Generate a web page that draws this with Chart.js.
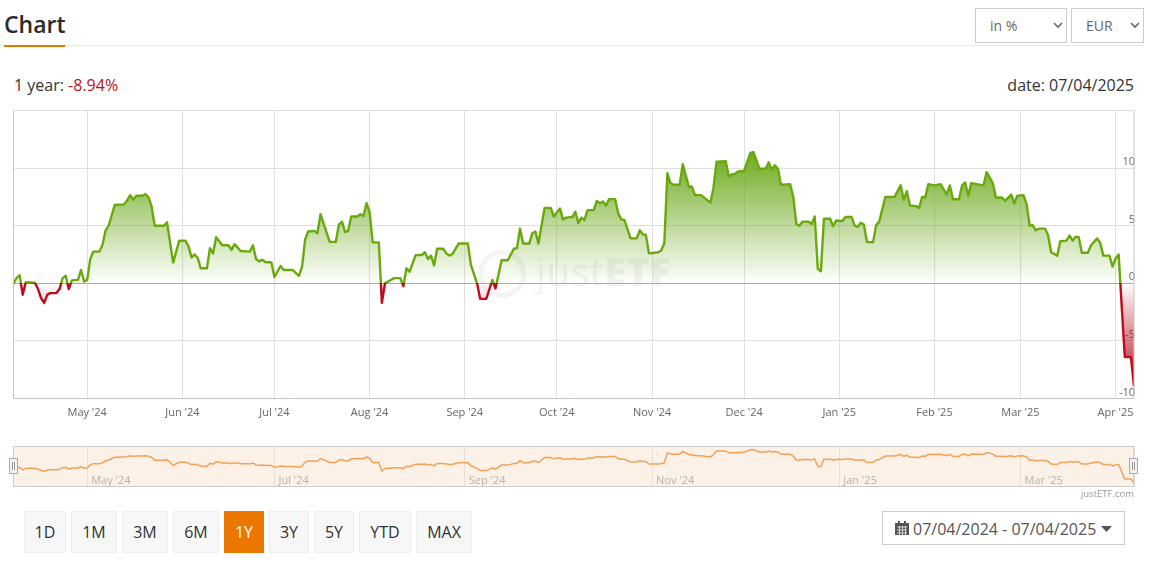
<!DOCTYPE html>
<html>
<head>
<meta charset="utf-8">
<title>Chart</title>
<script src="https://cdn.jsdelivr.net/npm/chart.js@4/dist/chart.umd.min.js"></script>
<style>
  html, body { margin: 0; padding: 0; background: #fff; }
  body { position: relative; width: 1154px; height: 567px; overflow: hidden; font-family: "Open Sans", sans-serif; color: #333; }
  .abs { position: absolute; white-space: nowrap; }
  canvas { position: absolute; }
  #title { left: 4px; top: 7px; font-size: 23px; font-weight: 600; line-height: 34px; color: #2b2b2b; }
  #rule { left: 4px; top: 45px; width: 1140px; height: 1px; background: #e6e6e6; }
  #ruleAccent { left: 4px; top: 45px; width: 61px; height: 2px; background: #ec7700; }
  .select { top: 8px; height: 33px; border: 1px solid #ccc; box-sizing: content-box; font-size: 14px; line-height: 33px; color: #666; }
  .select span { position: absolute; left: 14px; }
  .select svg { position: absolute; top: 13px; }
  #selUnit { left: 975px; width: 90px; }
  #selCur { left: 1071px; width: 71px; }
  #perf { left: 14px; top: 75px; font-size: 16px; line-height: 20px; }
  #perf b { font-weight: 400; color: #b5121b; }
  #date { right: 20px; top: 75px; font-size: 16px; line-height: 20px; }
  #ring { left: 478px; top: 250px; width: 38px; height: 38px; border: 5px solid #f4f4f4; border-radius: 50%; }
  #mark { left: 536px; top: 246px; font-size: 39px; line-height: 50px; color: #f3f3f3; letter-spacing: 0.5px; }
  #mark b { font-weight: 800; }
  #main { left: 0; top: 100px; }
  #nav { left: 0; top: 440px; }
  .handle { top: 458px; width: 7px; height: 14px; background: #f2f2f2; border: 1px solid #aaa; }
  .handle i { position: absolute; top: 3px; width: 1px; height: 8px; background: #999; }
  #credit { right: 20px; top: 487px; font-size: 9.5px; line-height: 13px; color: #999; }
  .btn { top: 511px; height: 40px; line-height: 40px; text-align: center; font-size: 16px; background: #f7f7f7; border: 1px solid #eee; color: #333; }
  .btn.on { background: #ec7700; border-color: #ec7700; color: #fff; }
  #range { left: 882px; top: 511px; width: 241px; height: 32px; border: 1px solid #ccc; line-height: 34px; font-size: 16px; color: #555; }
  #range span { position: absolute; left: 30px; }
  #range svg { position: absolute; }
</style>
</head>
<body>
<div class="abs" id="title">Chart</div>
<div class="abs" id="rule"></div>
<div class="abs" id="ruleAccent"></div>
<div class="abs select" id="selUnit"><span>in %</span><svg width="10" height="7" style="left:77px"><path d="M1 1l4 4 4-4" fill="none" stroke="#666" stroke-width="1.6"/></svg></div>
<div class="abs select" id="selCur"><span>EUR</span><svg width="10" height="7" style="left:58px"><path d="M1 1l4 4 4-4" fill="none" stroke="#666" stroke-width="1.6"/></svg></div>
<div class="abs" id="perf">1 year: <b>-8.94%</b></div>
<div class="abs" id="date">date: 07/04/2025</div>
<div class="abs" id="ring"></div>
<div class="abs" id="mark">just<b>ETF</b></div>
<canvas id="main" width="1154" height="330" style="width:1154px;height:330px"></canvas>
<canvas id="nav" width="1154" height="50" style="width:1154px;height:50px"></canvas>
<div class="abs handle" style="left:9px"><i style="left:2px"></i><i style="left:4px"></i></div>
<div class="abs handle" style="left:1129px"><i style="left:2px"></i><i style="left:4px"></i></div>
<div class="abs" id="credit">justETF.com</div>
<div class="abs btn" style="left:24px;width:40px">1D</div>
<div class="abs btn" style="left:71px;width:44px">1M</div>
<div class="abs btn" style="left:122px;width:44px">3M</div>
<div class="abs btn" style="left:173px;width:44px">6M</div>
<div class="abs btn on" style="left:224px;width:38px">1Y</div>
<div class="abs btn" style="left:269px;width:38px">3Y</div>
<div class="abs btn" style="left:314px;width:38px">5Y</div>
<div class="abs btn" style="left:359px;width:50px">YTD</div>
<div class="abs btn" style="left:416px;width:54px">MAX</div>
<div class="abs" id="range">
  <svg width="15" height="15" style="left:12px;top:9px"><path d="M0 4h14v10H0zM0 2h14v2H0zM3 0h2v3H3zM9 0h2v3H9z" fill="#555"/><path d="M2 6h10M2 9h10M2 12h10M4.5 5v9M7.5 5v9M10.5 5v9" stroke="#fff" stroke-width="0.7"/></svg>
  <span>07/04/2024 - 07/04/2025</span>
  <svg width="12" height="7" style="left:218px;top:14px"><path d="M0 0h11L5.5 6z" fill="#555"/></svg>
</div>

<script>
// days since 7 Apr 2024
const days = [
  0, 1, 2, 3, 4, 7, 8, 9, 10, 11, 12, 14, 15, 16, 17, 18, 19, 21, 22, 23, 24, 25, 26, 28, 29, 30, 31, 33, 36, 37, 38, 39, 40, 42, 43, 44, 45, 46, 49, 50, 52, 54, 56, 57, 58, 59, 60, 61, 63, 64, 65, 66, 68, 70, 71, 72, 74, 77, 78, 79, 80, 81, 82, 84, 85, 87, 88, 91, 93, 94, 95, 96, 98, 99, 100, 103, 105, 106, 107, 108, 109, 110, 112, 113, 114, 115, 116, 117, 119,
  120, 121, 124, 126, 127, 128, 129, 131, 133, 134, 135, 136, 137, 138, 140, 141, 142, 143, 145, 148, 149, 151, 152, 154, 156, 157, 159, 161, 163, 164, 165, 166, 168, 169, 170, 171, 173, 175, 176, 178, 179, 180, 182, 183, 184, 185, 186, 187, 189, 190, 191, 192, 193, 194, 196, 197, 198, 199, 201, 203, 204, 205, 206, 207, 210, 211, 212, 213, 214, 215, 217, 218, 220, 221, 222, 224, 227, 228, 229, 232, 233, 234, 235, 236, 238, 239, 240, 241, 243,
  245, 246, 247, 248, 249, 250, 253, 254, 255, 256, 257, 259, 260, 261, 262, 263, 264, 266, 267, 268, 270, 271, 273, 274, 275, 276, 277, 278, 280, 281, 282, 284, 287, 289, 290, 291, 292, 294, 295, 296, 297, 298, 300, 302, 304, 305, 306, 308, 309, 310, 311, 312, 316, 317, 319, 320, 322, 323, 325, 326, 327, 329, 330, 331, 332, 333, 334, 336, 337, 338, 340, 341, 343, 344, 345, 346, 347, 348, 350, 351, 353, 354, 355, 357, 358, 359, 360, 361, 362, 364, 365
];
const returns = [
  0, 0.45, 0.7, -1.0, 0.1, 0.05, -0.5, -1.3, -1.7, -1.0, -0.85, -0.85, -0.5, 0.45, 0.65, -0.5, 0.25, 0.3, 1.15, 0.15, 0.3, 2.1, 2.75, 2.75, 3.35, 4.6, 5.0, 6.8, 6.85, 7.2, 7.65, 7.25, 7.6, 7.6, 7.75, 7.45, 6.65, 5.0, 5.0, 5.3, 1.8, 3.7, 3.7, 3.2, 2.25, 2.5, 2.2, 1.3, 1.3, 3.05, 2.6, 4.0, 3.3, 3.3, 2.9, 3.4, 2.8, 2.75, 3.3, 2.1, 1.9, 2.05, 1.85, 1.8, 0.55, 1.5, 1.15, 1.15, 0.65, 1.45, 3.8, 4.5, 4.55, 4.35, 6.0, 3.6, 3.6, 5.1, 5.35, 4.45, 4.55, 5.8, 5.8, 6.0, 5.85, 6.95, 6.2, 3.55, 3.55,
  -1.7, 0, 0.45, 0.45, -0.25, 1.3, 1.0, 2.45, 2.45, 2.7, 2.1, 2.4, 1.55, 3.0, 3.0, 2.6, 2.4, 2.55, 3.45, 3.45, 1.6, 0, -1.35, -1.35, 0.3, -0.45, 2.0, 2.0, 3.0, 3.05, 4.75, 3.45, 3.45, 4.35, 4.5, 3.45, 6.55, 6.55, 5.8, 6.5, 5.55, 5.7, 5.75, 6.2, 5.25, 5.7, 5.5, 6.35, 6.35, 7.15, 6.95, 7.1, 6.75, 7.3, 7.3, 6.05, 5.55, 5.5, 3.9, 3.9, 4.6, 4.25, 4.2, 2.6, 2.7, 2.85, 3.5, 9.55, 8.7, 8.55, 8.55, 10.35, 8.35, 8.4, 7.65, 7.65, 7.0, 8.25, 10.55, 10.6, 9.3, 9.45, 9.5, 9.7, 9.75, 10.55, 11.3, 11.4, 9.95,
  9.95, 10.5, 9.85, 10.25, 9.95, 8.55, 8.6, 7.5, 5.15, 5.0, 5.35, 5.35, 5.15, 5.8, 1.25, 1.05, 5.6, 5.6, 4.95, 5.45, 5.4, 5.75, 5.75, 5.0, 4.9, 5.25, 5.1, 3.6, 3.55, 5.05, 5.35, 7.5, 7.5, 8.5, 7.25, 8.0, 6.75, 6.7, 6.55, 7.5, 7.45, 8.6, 8.5, 8.6, 7.7, 8.5, 7.3, 7.3, 8.5, 8.75, 7.6, 8.7, 8.5, 9.65, 8.7, 7.45, 7.45, 7.15, 7.7, 6.95, 7.6, 7.65, 6.9, 5.0, 5.05, 4.6, 4.75, 4.75, 4.2, 2.7, 2.4, 3.65, 3.7, 4.15, 3.7, 4.05, 4.0, 2.65, 2.65, 3.3, 3.9, 3.5, 2.4, 2.4, 1.45, 2.15, 2.5, -2.0, -6.4, -6.4, -8.94
];
const monthDays = [24, 55, 85, 116, 147, 177, 208, 238, 269, 300, 328, 359];
const monthLabels = ["May '24", "Jun '24", "Jul '24", "Aug '24", "Sep '24", "Oct '24", "Nov '24", "Dec '24", "Jan '25", "Feb '25", "Mar '25", "Apr '25"];
const navDays = [24, 85, 147, 208, 269, 328];
const navLabels = ["May '24", "Jul '24", "Sep '24", "Nov '24", "Jan '25", "Mar '25"];
const yTicks = [-10, -5, 0, 5, 10, 15];

const points = days.map((d, i) => ({ x: d, y: returns[i] }));
const font = '"Open Sans", sans-serif';

// line turns red below zero, the fill fades towards the zero line
const zeroColoring = {
  id: "zeroColoring",
  afterLayout(chart) {
    const { ctx, scales, chartArea } = chart;
    const ds = chart.data.datasets[0];
    const zero = scales.y.getPixelForValue(0);
    const stop = (zero - chartArea.top) / (chartArea.bottom - chartArea.top);

    const stroke = ctx.createLinearGradient(0, chartArea.top, 0, chartArea.bottom);
    stroke.addColorStop(0, "#6aa90c");
    stroke.addColorStop(stop, "#6aa90c");
    stroke.addColorStop(stop, "#bc0d1d");
    stroke.addColorStop(1, "#bc0d1d");
    ds.borderColor = stroke;

    const above = ctx.createLinearGradient(0, scales.y.getPixelForValue(11.4), 0, zero);
    above.addColorStop(0, "rgba(110,170,30,1)");
    above.addColorStop(1, "rgba(110,170,30,0)");
    const below = ctx.createLinearGradient(0, zero, 0, scales.y.getPixelForValue(-8.94));
    below.addColorStop(0, "rgba(185,20,35,0)");
    below.addColorStop(1, "rgba(185,20,35,1)");
    ds.fill = { target: { value: 0 }, above, below };
  },
};

const plotFrame = {
  id: "plotFrame",
  afterDraw(chart, args, opts) {
    const { ctx, chartArea: a } = chart;
    ctx.save();
    ctx.strokeStyle = opts.color;
    ctx.lineWidth = 1;
    ctx.beginPath();
    ctx.moveTo(a.left, a.top);
    ctx.lineTo(a.left, a.bottom);
    ctx.moveTo(a.right, a.top);
    ctx.lineTo(a.right, a.bottom);
    ctx.moveTo(a.left, a.bottom);
    ctx.lineTo(a.right, a.bottom);
    ctx.stroke();
    ctx.restore();
  },
};

// navigator month labels sit inside the plot, right of their grid line
const navLabelsPlugin = {
  id: "navLabelsPlugin",
  afterDraw(chart) {
    const { ctx, scales, chartArea } = chart;
    ctx.save();
    ctx.font = `11px ${font}`;
    ctx.fillStyle = "#b8b2ac";
    ctx.textBaseline = "alphabetic";
    navDays.forEach((d, i) => {
      ctx.fillText(navLabels[i], scales.x.getPixelForValue(d) + 4, chartArea.bottom - 3);
    });
    ctx.restore();
  },
};

new Chart(document.getElementById("main"), {
  type: "line",
  data: {
    datasets: [
      { data: points, borderWidth: 2.4, pointRadius: 0, tension: 0, borderJoinStyle: "round", fill: { target: { value: 0 } } },
    ],
  },
  options: {
    responsive: false,
    animation: false,
    events: [],
    layout: { padding: { left: 13.5, right: 20, top: 10.5, bottom: 0 } },
    plugins: { legend: { display: false }, tooltip: { enabled: false }, plotFrame: { color: "#c4c4c4" } },
    scales: {
      x: {
        type: "linear",
        min: 0,
        max: 365,
        afterBuildTicks: (axis) => { axis.ticks = monthDays.map((value) => ({ value })); },
        afterFit: (axis) => { axis.height = 31.5; },
        grid: { color: "#e0e0e0", drawTicks: false },
        border: { display: false },
        ticks: {
          autoSkip: false,
          maxRotation: 0,
          padding: 8,
          color: "#666",
          font: { family: font, size: 11 },
          callback: (v) => monthLabels[monthDays.indexOf(v)],
        },
      },
      y: {
        position: "right",
        min: -10,
        max: 15,
        afterBuildTicks: (axis) => { axis.ticks = yTicks.map((value) => ({ value })); },
        afterFit: (axis) => { axis.width = 0; },
        grid: {
          color: (c) => (c.tick.value === 0 ? "#aaaaaa" : "#e0e0e0"),
          drawTicks: false,
        },
        border: { display: false },
        ticks: {
          mirror: true,
          padding: 1,
          labelOffset: -6,
          color: "#666",
          font: { family: font, size: 11 },
          callback: (v) => (v === 15 ? "" : v),
        },
      },
    },
  },
  plugins: [zeroColoring, plotFrame],
});

new Chart(document.getElementById("nav"), {
  type: "line",
  data: {
    datasets: [
      { data: points, borderColor: "#f0a25a", borderWidth: 1.5, pointRadius: 0, tension: 0, fill: false },
    ],
  },
  options: {
    responsive: false,
    animation: false,
    events: [],
    layout: { padding: { left: 13.5, right: 20, top: 6.5, bottom: 3.5 } },
    plugins: { legend: { display: false }, tooltip: { enabled: false }, plotFrame: { color: "#ccc" } },
    scales: {
      x: {
        type: "linear",
        min: 0,
        max: 365,
        afterBuildTicks: (axis) => { axis.ticks = navDays.map((value) => ({ value })); },
        afterFit: (axis) => { axis.height = 0; },
        grid: { color: "#e9ded4", drawTicks: false },
        border: { display: false },
        ticks: { display: false },
      },
      y: {
        min: -11,
        max: 13.3,
        afterFit: (axis) => { axis.width = 0; },
        grid: { display: false, drawTicks: false },
        border: { display: false },
        ticks: { display: false },
      },
    },
  },
  plugins: [
    {
      id: "navBackground",
      beforeDraw(chart) {
        const { ctx, chartArea: a } = chart;
        ctx.save();
        ctx.fillStyle = "#fcf1e7";
        ctx.fillRect(a.left, a.top, a.right - a.left, a.bottom - a.top);
        ctx.strokeStyle = "#ccc";
        ctx.strokeRect(a.left, a.top, a.right - a.left, a.bottom - a.top);
        ctx.restore();
      },
    },
    plotFrame,
    navLabelsPlugin,
  ],
});
</script>
</body>
</html>
